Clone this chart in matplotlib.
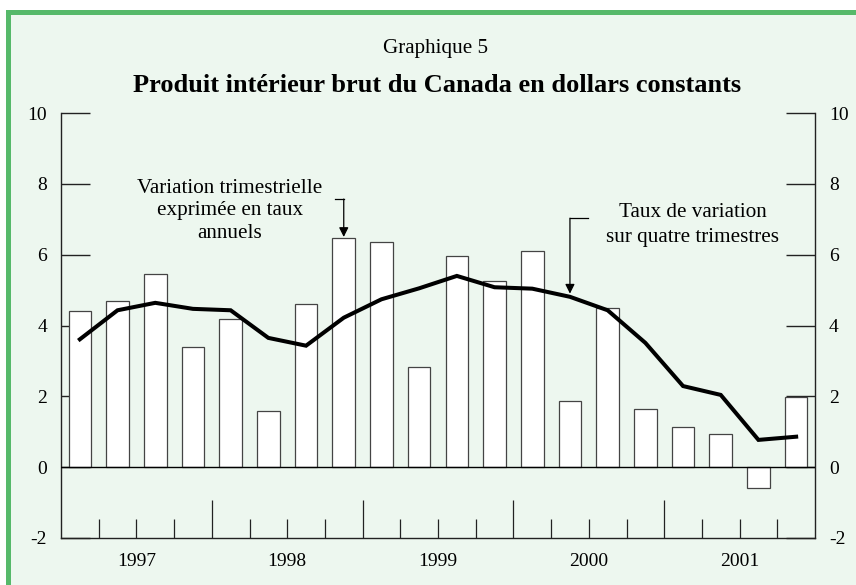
import matplotlib
matplotlib.use("Agg")
import matplotlib.pyplot as plt
from matplotlib.patches import Rectangle
import numpy as np

years = ["1997", "1998", "1999", "2000", "2001"]
quarterly_annualized = [4.40, 4.69, 5.46, 3.38, 4.19, 1.58, 4.61, 6.46, 6.36, 2.83,
                        5.95, 5.27, 6.11, 1.86, 4.50, 1.63, 1.14, 0.94, -0.58, 1.99]
four_quarter_rate = [3.61, 4.43, 4.64, 4.47, 4.43, 3.65, 3.43, 4.22, 4.74, 5.05,
                     5.40, 5.08, 5.04, 4.81, 4.43, 3.51, 2.29, 2.04, 0.77, 0.86]
yticks = [-2, 0, 2, 4, 6, 8, 10]

W, H = 856, 585
fig = plt.figure(figsize=(W / 100, H / 100), dpi=100)
fig.patch.set_facecolor("white")
plt.rcParams["font.family"] = ["Liberation Serif", "DejaVu Serif"]

bg = "#EDF7EF"
green = "#56B96A"
# background panel with green top/left border
fig.patches.append(Rectangle((6 / W, 0), 1 - 6 / W, 1 - 10 / H, transform=fig.transFigure,
                             facecolor=bg, edgecolor="none", zorder=-10))
fig.patches.append(Rectangle((6 / W, 1 - 15 / H), 1 - 6 / W, 5 / H, transform=fig.transFigure,
                             facecolor=green, edgecolor="none", zorder=-9))
fig.patches.append(Rectangle((6 / W, 0), 5 / W, 1 - 10 / H, transform=fig.transFigure,
                             facecolor=green, edgecolor="none", zorder=-9))

left, right, bottom, top = 61, 815, 538, 113
ax = fig.add_axes([left / W, 1 - bottom / H, (right - left) / W, (bottom - top) / H])
ax.set_zorder(5)
ax.set_facecolor("none")

n = len(quarterly_annualized)
x = np.arange(n) + 0.5
ax.bar(x, quarterly_annualized, width=0.6, color="white", edgecolor="#444444",
       linewidth=0.9, zorder=2)
ax.plot(x, four_quarter_rate, color="black", linewidth=2.9, zorder=3,
        solid_joinstyle="miter")
ax.axhline(0, color="black", linewidth=1.0, zorder=4)

ax.set_xlim(0, n)
ax.set_ylim(-2, 10)

ax.spines["top"].set_visible(False)
for s in ["left", "right", "bottom"]:
    ax.spines[s].set_linewidth(1.0)
    ax.spines[s].set_color("#222222")

ax.set_yticks(yticks)
ax.set_yticklabels([str(v) for v in yticks])
ax.tick_params(axis="y", direction="in", length=21, width=1.0, color="#222222",
               left=True, right=True, labelleft=True, labelright=True,
               labelsize=14, pad=10)

# year labels and quarter tick marks
ax.set_xticks([4 * i + 2 for i in range(len(years))])
ax.set_xticklabels(years)
ax.tick_params(axis="x", length=0, labelsize=14, pad=10.5)
for q in range(1, n):
    h = 1.07 if q % 4 == 0 else 0.54
    ax.vlines(q, -2, -2 + h, color="#222222", linewidth=0.9, zorder=2)

# annotations
ax.text(4.48, 7.24, "Variation trimestrielle\nexprimée en taux\nannuels", ha="center",
        va="center", fontsize=15.2, linespacing=1.26)
ax.annotate("", xy=(7.5, 6.5), xytext=(7.5, 7.57),
            arrowprops=dict(arrowstyle="-|>", color="black", lw=0.9,
                            mutation_scale=14, shrinkA=0, shrinkB=0))
ax.plot([7.26, 7.5], [7.57, 7.57], color="black", lw=0.9)

ax.text(16.76, 6.84, "Taux de variation\nsur quatre trimestres", ha="center",
        va="center", fontsize=15.2, linespacing=1.4)
ax.annotate("", xy=(13.5, 4.9), xytext=(13.5, 7.03),
            arrowprops=dict(arrowstyle="-|>", color="black", lw=0.9,
                            mutation_scale=14, shrinkA=0, shrinkB=0))
ax.plot([13.5, 13.98], [7.03, 7.03], color="black", lw=0.9)

fig.text(435 / W, 1 - 48 / H, "Graphique 5", ha="center", va="center", fontsize=15.1)
fig.text(437 / W, 1 - 85 / H, "Produit intérieur brut du Canada en dollars constants",
         ha="center", va="center", fontsize=19, fontweight="bold")

fig.savefig("out.png", dpi=100, facecolor=fig.get_facecolor())
